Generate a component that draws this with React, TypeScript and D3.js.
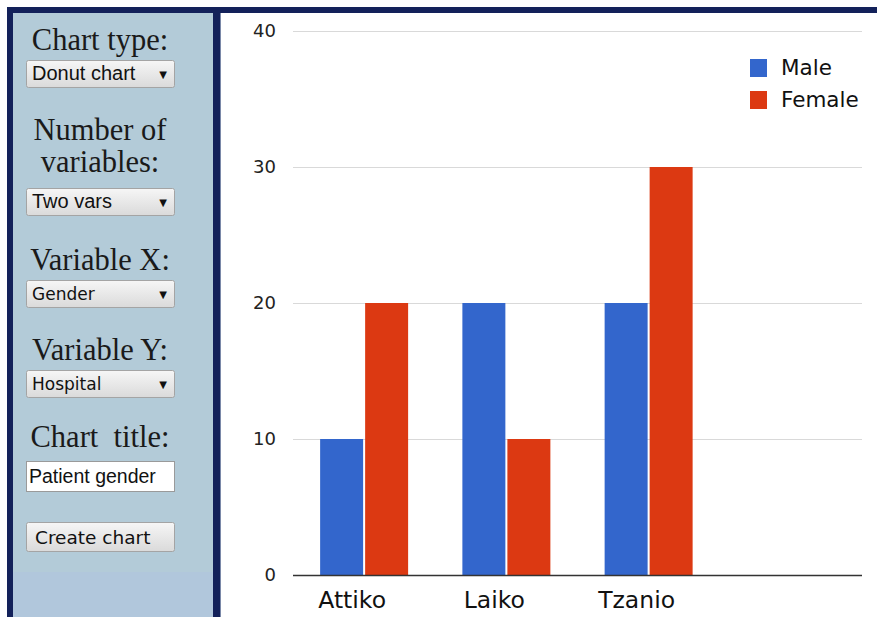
import { useEffect, useRef } from 'react'
import * as d3 from 'd3'

// chart values
const categories = ['Attiko', 'Laiko', 'Tzanio']
const seriesNames = ['Male', 'Female']
const maleValues = [10, 20, 20]
const femaleValues = [20, 10, 30]
const yTicks = [0, 10, 20, 30, 40]
const colors = ['#3366cc', '#dc3912']

// form panel
const selects = [
  { label: ['Chart type:'], value: 'Donut chart', labelY: [50], boxY: 60, font: 'Liberation Sans', size: 20 },
  { label: ['Number of', 'variables:'], value: 'Two vars', labelY: [140, 172], boxY: 188, font: 'Liberation Sans', size: 20 },
  { label: ['Variable X:'], value: 'Gender', labelY: [270], boxY: 280, font: 'DejaVu Sans', size: 17 },
  { label: ['Variable Y:'], value: 'Hospital', labelY: [360], boxY: 370, font: 'DejaVu Sans', size: 17 },
]

const W = 877
const H = 617

const Panel = () => (
  <g>
    <defs>
      <linearGradient id="selGrad" x1="0" y1="0" x2="0" y2="1">
        <stop offset="0" stopColor="#f6f6f6" />
        <stop offset="1" stopColor="#dadada" />
      </linearGradient>
    </defs>
    <rect x={7} y={7} width={W - 7} height={H - 7} fill="#13215a" />
    <rect x={13} y={13} width={200} height={H - 13} fill="#b3cbd8" />
    <rect x={13} y={572} width={200} height={H - 572} fill="#b1c7dc" />
    <rect x={220} y={13} width={W - 220} height={H - 13} fill="#ffffff" />
    <line x1={220.5} y1={13} x2={220.5} y2={H} stroke="#7a88a8" />
    {selects.map((s, i) => (
      <g key={i}>
        {s.label.map((l, j) => (
          <text
            key={j}
            x={100}
            y={s.labelY[j]}
            textAnchor="middle"
            fontFamily="Liberation Serif"
            fontSize={30.5}
            fill="#1a1a1a"
          >
            {l}
          </text>
        ))}
        <rect x={26.5} y={s.boxY + 0.5} width={148} height={27} rx={2} fill="url(#selGrad)" stroke="#a4a4a4" />
        <text x={32} y={s.boxY + 20} fontFamily={s.font} fontSize={s.size} fill="#111">
          {s.value}
        </text>
        <text x={163} y={s.boxY + 18} textAnchor="middle" fontFamily="DejaVu Sans" fontSize={10} fill="#111">
          ▼
        </text>
      </g>
    ))}
    <text x={100} y={447} textAnchor="middle" fontFamily="Liberation Serif" fontSize={30.5} fill="#1a1a1a" xmlSpace="preserve">
      Chart  title:
    </text>
    <rect x={26.5} y={461.5} width={148} height={30} fill="#ffffff" stroke="#9a9a9a" />
    <text x={29} y={483} fontFamily="Liberation Sans" fontSize={19.5} fill="#111">
      Patient gender
    </text>
    <rect x={26.5} y={522.5} width={148} height={29} rx={2} fill="url(#selGrad)" stroke="#a4a4a4" />
    <text x={35} y={544} fontFamily="DejaVu Sans" fontSize={18.5} fill="#111">
      Create chart
    </text>
  </g>
)

const BarChart = () => {
  const gRef = useRef<SVGGElement>(null)

  useEffect(() => {
    const plotLeft = 293
    const plotRight = 862
    const plotTop = 31
    const plotBottom = 575
    const slots = 4 // chart leaves room for one empty slot on the right
    const step = (plotRight - plotLeft) / slots

    const g = d3.select(gRef.current)
    g.selectAll('*').remove()

    const y = d3.scaleLinear().domain([0, 40]).range([plotBottom, plotTop])
    const x0 = d3
      .scaleBand<string>()
      .domain(categories)
      .range([plotLeft, plotLeft + step * categories.length])
      .paddingInner(0.3814)
      .paddingOuter(0.1907)
    const x1 = d3
      .scaleBand<string>()
      .domain(seriesNames)
      .range([0, x0.bandwidth()])
      .paddingInner(0.045)
    const color = d3.scaleOrdinal<string, string>().domain(seriesNames).range(colors)

    // grid + tick labels
    const yAxis = d3.axisLeft(y).tickValues(yTicks).tickSize(0).tickPadding(17)
    g.append('g')
      .attr('transform', `translate(${plotLeft},0)`)
      .call(yAxis)
      .call((s) => s.select('.domain').remove())
      .call((s) =>
        s
          .selectAll('.tick line')
          .attr('x2', plotRight - plotLeft)
          .attr('stroke', '#d9d9d9')
      )
      .call((s) =>
        s
          .selectAll('.tick text')
          .attr('fill', '#222')
          .style('font-family', 'DejaVu Sans')
          .style('font-size', '18px')
      )

    const rows = categories.map((c, i) => ({ cat: c, values: [maleValues[i], femaleValues[i]] }))

    g.append('g')
      .selectAll('g')
      .data(rows)
      .join('g')
      .attr('transform', (d) => `translate(${x0(d.cat)},0)`)
      .selectAll('rect')
      .data((d) => d.values.map((v, k) => ({ key: seriesNames[k], v })))
      .join('rect')
      .attr('x', (d) => x1(d.key) as number)
      .attr('width', x1.bandwidth())
      .attr('y', (d) => y(d.v))
      .attr('height', (d) => y(0) - y(d.v))
      .attr('fill', (d) => color(d.key))

    // baseline
    g.append('line')
      .attr('x1', plotLeft)
      .attr('x2', plotRight)
      .attr('y1', y(0) + 0.5)
      .attr('y2', y(0) + 0.5)
      .attr('stroke', '#333')
      .attr('stroke-width', 1.3)

    // category labels
    g.append('g')
      .selectAll('text')
      .data(categories)
      .join('text')
      .attr('x', (d) => (x0(d) as number) + x0.bandwidth() / 2 - 12)
      .attr('y', 608)
      .attr('text-anchor', 'middle')
      .attr('fill', '#111')
      .style('font-family', 'DejaVu Sans')
      .style('font-size', '23.5px')
      .text((d) => d)

    // legend
    const legend = g
      .append('g')
      .selectAll('g')
      .data(seriesNames)
      .join('g')
      .attr('transform', (d, i) => `translate(750,${59 + i * 32})`)
    legend
      .append('rect')
      .attr('width', 17)
      .attr('height', 18)
      .attr('fill', (d) => color(d))
    legend
      .append('text')
      .attr('x', 31)
      .attr('y', 16)
      .attr('fill', '#111')
      .style('font-family', 'DejaVu Sans')
      .style('font-size', '21.5px')
      .text((d) => d)
  }, [])

  return <g ref={gRef} />
}

export default function App() {
  return (
    <div style={{ position: 'fixed', left: 0, top: 0 }}>
      <svg width={W} height={H} style={{ display: 'block', background: '#fff' }}>
        <Panel />
        <BarChart />
      </svg>
    </div>
  )
}
